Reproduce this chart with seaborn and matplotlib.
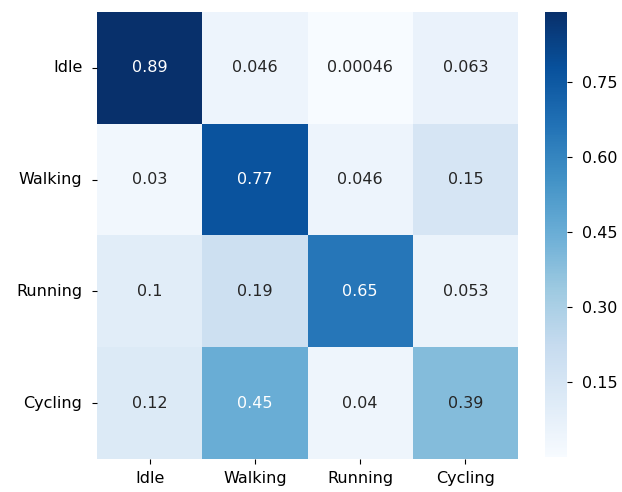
import matplotlib
matplotlib.use("Agg")
import matplotlib.pyplot as plt
import numpy as np
import pandas as pd
import seaborn as sns

labels = ["Idle", "Walking", "Running", "Cycling"]
idle = [0.89, 0.046, 0.00046, 0.063]
walking = [0.03, 0.77, 0.046, 0.15]
running = [0.1, 0.19, 0.65, 0.053]
cycling = [0.12, 0.45, 0.04, 0.39]

cm = pd.DataFrame([idle, walking, running, cycling], index=labels, columns=labels)

plt.rcParams["font.family"] = ["DejaVu Sans"]
fig = plt.figure(figsize=(6.22, 4.92), dpi=100)
ax = fig.add_axes([0.156, 0.067, 0.677, 0.909])
cax = fig.add_axes([0.876, 0.071, 0.036, 0.905])

sns.heatmap(cm, annot=True, cmap="Blues", ax=ax, cbar_ax=cax,
            annot_kws={"fontsize": 11.5})
ax.tick_params(axis="both", labelsize=11.5)
ax.tick_params(axis="y", pad=7)
ax.tick_params(axis="x", pad=5)
ax.set_yticklabels(ax.get_yticklabels(), rotation=0)
ax.set_xticklabels(ax.get_xticklabels(), rotation=0)
cax.tick_params(labelsize=11.5, pad=7)
cax.set_yticks([0.15, 0.30, 0.45, 0.60, 0.75])
cax.set_yticklabels(["0.15", "0.30", "0.45", "0.60", "0.75"])

fig.savefig("out.png", dpi=100)
